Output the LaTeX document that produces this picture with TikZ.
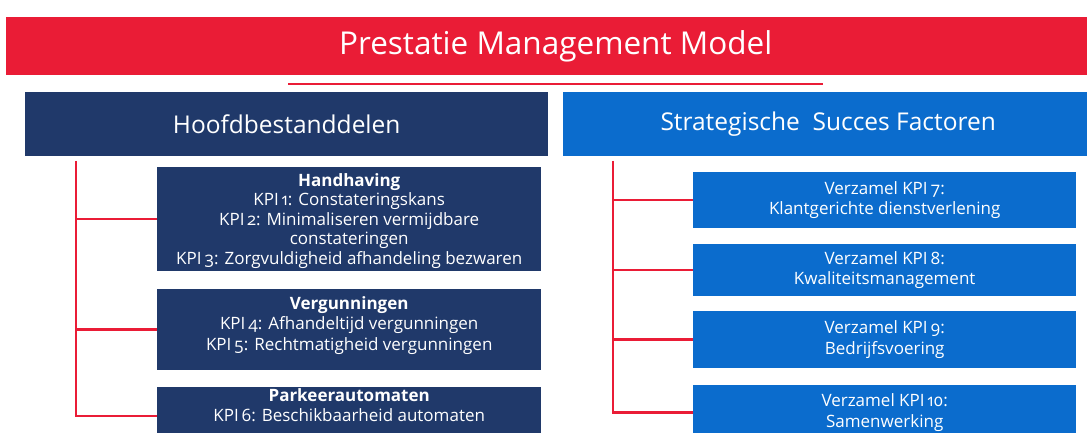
\documentclass[tikz,border=0pt]{standalone}
\usepackage{fontspec}
\setmainfont{Open Sans}[Numbers=OldStyle]
\usetikzlibrary{positioning}
\definecolor{pmred}{RGB}{234,28,54}
\definecolor{pmnavy}{RGB}{32,57,106}
\definecolor{pmblue}{RGB}{11,108,205}

\begin{document}
\begin{tikzpicture}[x=1pt,y=-1pt,
    every node/.style={inner sep=0pt,text=white,align=center,anchor=north west},
    bar/.style={fill=pmred,minimum width=1099pt,minimum height=58pt,font=\fontsize{31.5}{36}\selectfont},
    head/.style={minimum height=64pt,font=\fontsize{24.5}{29}\selectfont},
    kpibox/.style={minimum width=384pt,font=\fontsize{17}{20.5}\selectfont},
    tree/.style={draw=pmred,line width=2.5pt}]
    \useasboundingbox[fill=white] (0,0) rectangle (1087,433);
    \clip (0,0) rectangle (1087,433);

    \node[bar] (title) at (6,17) {Prestatie Management Model};
    \draw[pmred,line width=2pt] (288,84) -- (823,84);

    % two columns
    \node[head,fill=pmnavy,minimum width=523pt] (hoofd) at (25,92) {Hoofdbestanddelen};
    \node[head,fill=pmblue,minimum width=530pt] (ssf) at (563,92) {Strategische\ \ Succes Factoren};

    \node[kpibox,fill=pmnavy,minimum height=104pt] (hh) at (157,167) {};
    \node[kpibox,below=6pt of hh.north,font=\fontsize{17}{19.5}\selectfont] (hhtxt)
        {\textbf{Handhaving}\\KPI\,1: Constateringskans\\KPI\,2: Minimaliseren vermijdbare\\constateringen\\KPI\,3: Zorgvuldigheid afhandeling bezwaren};
    \node[kpibox,fill=pmnavy,minimum height=81pt] (verg) at (157,289) {};
    \node[kpibox,below=7pt of verg.north] (vergtxt)
        {\textbf{Vergunningen}\\KPI\,4: Afhandeltijd vergunningen\\KPI\,5: Rechtmatigheid vergunningen};
    \node[kpibox,fill=pmnavy,minimum height=58pt] (park) at (157,387) {};
    \node[kpibox,below=1pt of park.north] (parktxt)
        {\textbf{Parkeerautomaten}\\KPI\,6: Beschikbaarheid automaten};

    \node[kpibox,fill=pmblue,minimum width=383pt,minimum height=56pt] (kpi7) at (693,172)
        {Verzamel KPI\,7:\\Klantgerichte dienstverlening};
    \node[kpibox,fill=pmblue,minimum width=383pt,minimum height=52pt] (kpi8) at (693,244)
        {Verzamel KPI\,8:\\Kwaliteitsmanagement};
    \node[kpibox,fill=pmblue,minimum width=383pt,minimum height=57pt] (kpi9) at (693,311)
        {Verzamel KPI\,9:\\Bedrijfsvoering};
    \node[kpibox,fill=pmblue,minimum width=383pt,minimum height=55pt] (kpi10) at (693,385)
        {Verzamel KPI\,10:\\Samenwerking};

    % red trees
    \coordinate (lroot) at (76,161);
    \coordinate (rroot) at (613,161);
    \draw[tree] (lroot) |- (park.west);
    \draw[tree] (lroot |- hh.west) -- (hh.west);
    \draw[tree] (lroot |- verg.west) -- (verg.west);
    \draw[tree] (rroot) |- (kpi10.west);
    \draw[tree] (rroot |- kpi7.west) -- (kpi7.west);
    \draw[tree] (rroot |- kpi8.west) -- (kpi8.west);
    \draw[tree] (rroot |- kpi9.west) -- (kpi9.west);
\end{tikzpicture}
\end{document}
